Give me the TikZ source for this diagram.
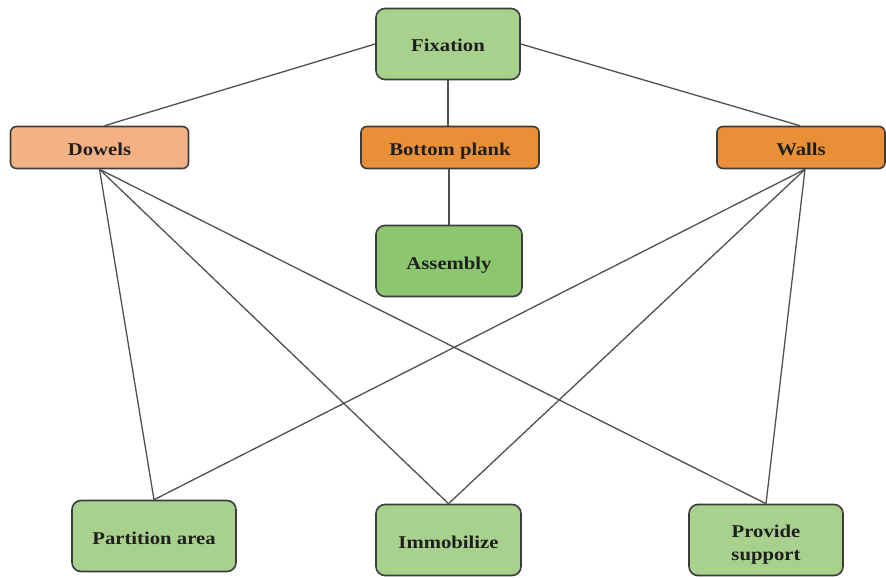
\documentclass[tikz,border=0pt]{standalone}
\usepackage{fontspec}
\setmainfont{Liberation Serif}[FakeStretch=1.15]
\definecolor{lightgreen}{HTML}{A9D18E}
\definecolor{midgreen}{HTML}{8CC770}
\definecolor{lightorange}{HTML}{F4B183}
\definecolor{deeporange}{HTML}{E98F38}
\definecolor{edgegrey}{HTML}{3C3C3C}
\definecolor{linkgrey}{HTML}{505050}
\begin{document}
\begin{tikzpicture}[x=1pt,y=-1pt,
  box/.style={draw=edgegrey, line width=1.6pt, align=center, inner sep=2pt,
    font=\fontsize{18}{20}\selectfont\bfseries, text=black!88,
    text height=17pt, text depth=1pt},
  bigbox/.style={box, rounded corners=9pt, minimum width=144pt, minimum height=71pt},
  smallbox/.style={box, rounded corners=6pt, minimum width=178pt, minimum height=42pt},
  link/.style={draw=linkgrey, line width=1.3pt}]
\useasboundingbox (0,0) rectangle (886,578);
\fill[white] (0,0) rectangle (886,578);

% top level
\node[bigbox, fill=lightgreen] (fix) at (448,44) {Fixation};
% middle row
\node[smallbox, fill=lightorange] (dow) at (99.5,147.5) {Dowels};
\node[smallbox, fill=deeporange] (bot) at (450,147.5) {Bottom plank};
\node[smallbox, fill=deeporange, minimum width=168pt] (wal) at (801,147.5) {Walls};
\node[bigbox, fill=midgreen, minimum width=146pt] (asm) at (449,261) {Assembly};
% bottom row
\node[bigbox, fill=lightgreen, minimum width=164pt] (par) at (154,536) {Partition area};
\node[bigbox, fill=lightgreen, minimum width=145pt] (imm) at (448.5,540) {Immobilize};
\node[bigbox, fill=lightgreen, minimum width=154pt, text height=41pt, text depth=1pt]
  (sup) at (766,540) {Provide\\[3pt]support};

% connectors
\path[link] (fix.west) -- ([xshift=5pt]dow.north);
\path[link] (fix.east) -- ([xshift=-1pt]wal.north);
\path[link] (fix.south) -- (fix.south |- bot.north);
\path[link] (bot.south -| asm.north) -- (asm.north);
\path[link] (dow.south) -- (par.north);
\path[link] (dow.south) -- (imm.north);
\path[link] (dow.south) -- (sup.north);
\path[link] ([xshift=4pt]wal.south) -- (par.north);
\path[link] ([xshift=4pt]wal.south) -- (imm.north);
\path[link] ([xshift=4pt]wal.south) -- (sup.north);
\end{tikzpicture}
\end{document}
